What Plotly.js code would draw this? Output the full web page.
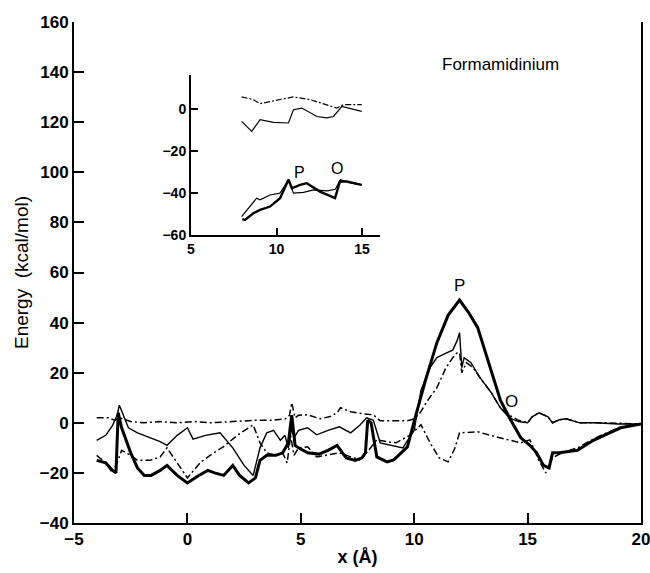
<!DOCTYPE html>
<html>
<head>
<meta charset="utf-8">
<script src="https://cdn.plot.ly/plotly-3.0.1.min.js"></script>
<style>html,body{margin:0;padding:0;background:#fff}#chart{width:650px;height:573px}</style>
</head>
<body>
<div id="chart"></div>
<script>
// ---- Main panel data (x in Å, energy in kcal/mol) ----
const thickX = [-4.0,-3.6,-3.3,-3.15,-3.05,-2.9,-2.5,-2.2,-1.9,-1.6,-1.2,-0.9,-0.45,0.0,0.5,0.9,1.2,1.6,2.0,2.3,2.7,3.0,3.2,3.5,3.9,4.2,4.45,4.6,4.75,4.9,5.3,5.8,6.2,6.6,7.0,7.4,7.7,7.85,7.95,8.1,8.35,8.8,9.1,9.7,10.1,10.5,11.0,11.5,12.0,12.4,12.8,13.4,13.8,14.2,14.7,15.1,15.4,15.7,15.95,16.1,16.4,17.2,17.9,19.1,20.0];
const thickY = [-15,-16,-19,-20,4,-2,-12,-18,-21,-21,-19,-17,-21,-24,-21,-19,-20,-21,-17,-21,-24,-22,-15,-13,-13,-12,-8,3,-9,-10,-12,-12.5,-11,-9,-14,-15,-14,-12,1,0,-13.6,-15.6,-14.8,-9.6,4,17,32,43,49,44,38,21,9,2,-6,-9,-12,-17,-18,-12,-12,-11,-7,-2,-0.5];

const thinX = [-4.0,-3.6,-3.3,-3.1,-3.0,-2.6,-2.2,-1.6,-1.2,-0.9,-0.45,0.0,0.25,0.8,1.44,2.0,2.5,2.9,3.2,3.5,3.8,4.1,4.3,4.45,4.6,4.7,4.9,5.3,5.7,6.2,6.7,7.2,7.6,7.9,8.2,8.5,9.0,9.5,10.0,10.3,10.7,11.0,11.45,11.7,11.9,12.0,12.1,12.2,12.5,12.9,13.4,13.8,14.2,14.6,15.0,15.2,15.5,15.9,16.1,16.4,16.7,17.3,18.0,19.0,20.0];
const thinY = [-7,-5,-1,3,7,-2,-4,-6,-7.5,-9,-5,-2,-6.5,-5,-4,-10,-17,-21,-10,-4,-3,-7,-5,-10,-2,-6,-3,-2,-4.8,-3,-1.6,-4,-1,2,1,-8,-9,-10,-3,13,22,26,28,29,33,36,22,26,24,18,12,6,2,0.5,0,2.4,4,2.4,0,1.2,1.6,0,0,-0.5,-0.5];

const dashAX = [-4.0,-3.5,-3.2,-3.0,-2.5,-1.9,-1.2,-0.5,0.3,1.0,2.0,3.0,3.7,4.3,4.5,4.6,4.75,4.9,5.3,5.85,6.3,6.6,6.75,7.2,7.8,8.2,8.5,9.0,9.7,10.0,10.26,10.6,11.0,11.4,11.7,11.9,12.0,12.1,12.3,12.6,12.9,13.4,13.8,14.2,14.6,15.0,15.2,15.5,15.9,16.1,16.4,16.7,17.3,18.5,20.0];
const dashAY = [2,2,1,2,0.5,0,0.5,0,0.5,0,0.5,1,1,1.5,3,8,2,3,3.2,1.6,2.5,4,6,4.4,3.5,3.2,0.8,0.8,0.8,1.5,4,9,14,22,26,28,28,20,24,22,18,12,6,3,1,0,2.4,4,2.4,0,1.2,1.6,0,0,-0.5];

const dashBX = [-4.0,-3.6,-3.3,-3.1,-2.9,-2.5,-2.2,-1.65,-1.2,-0.9,-0.45,0.0,0.56,1.0,1.58,2.2,2.9,3.2,3.5,3.9,4.2,4.4,4.55,4.7,4.9,5.3,5.7,6.2,6.7,7.2,7.6,7.9,8.35,8.8,9.2,9.8,10.3,10.7,11.1,11.5,11.8,12.0,12.8,13.6,14.2,14.7,15.1,15.5,15.8,16.1,16.5,17.2,18.0,19.0,20.0];
const dashBY = [-13,-16,-20,-16,-11,-13,-15,-15,-13.6,-10,-16,-22,-16,-13,-9.6,-5,-0.8,-8,-12,-13,-12,-16,-5,-13,-10,-9.6,-13.6,-12.8,-12,-13.6,-14.8,-12,-6.8,-7.5,-8,-5,-0.8,-8,-14,-15.6,-10,-4,-3.6,-5.6,-7,-8,-6.8,-15,-20,-14,-12,-10,-6,-2,-0.5];

// ---- Inset data ----
const inDashX = [7.96,8.64,9.04,10.01,10.98,11.96,12.93,13.52,13.9,14.98];
const inDashY = [5.6,4.3,2.4,3.9,5.6,4.3,1.9,0.3,1.9,1.9];
const inThinUpX = [7.96,8.55,9.04,9.82,10.7,10.99,11.48,12.36,12.94,13.33,13.82,14.98];
const inThinUpY = [-6,-10.8,-5.2,-6.5,-6.8,-0.5,0.3,-3.7,-4.4,-3.7,1.1,-1.3];
const inThickX = [8.0,8.16,8.64,9.04,9.62,10.21,10.7,10.9,11.38,11.77,12.54,13.42,13.71,14.1,14.98];
const inThickY = [-52.5,-52.9,-49.7,-48.1,-46.5,-42.5,-33.8,-37.8,-36.2,-35.4,-39.4,-42.5,-34.6,-34.6,-36.2];
const inThinLoX = [7.96,8.84,9.04,9.62,10.21,10.7,10.99,11.58,12.17,12.95,13.44,13.73,14.4,14.98];
const inThinLoY = [-51.3,-42.5,-43.3,-41,-40.1,-33.8,-40.1,-39.8,-38.6,-39,-38.3,-33.8,-35.4,-36.2];

const xTicks = [-5,0,5,10,15,20];
const yTicks = [-40,-20,0,20,40,60,80,100,120,140,160];
const inXTicks = [5,10,15];
const inYTicks = [-60,-40,-20,0];

const K = '#000';
const FAM = 'Liberation Sans, Arial, sans-serif';
const dd = '7px,3px,2px,3px';
const traces = [
  {x: thinX, y: thinY, mode:'lines', line:{color:K, width:1.4}},
  {x: dashAX, y: dashAY, mode:'lines', line:{color:K, width:1.5, dash:dd}},
  {x: dashBX, y: dashBY, mode:'lines', line:{color:K, width:1.5, dash:dd}},
  {x: thickX, y: thickY, mode:'lines', line:{color:K, width:3}},
  {x: inDashX, y: inDashY, xaxis:'x2', yaxis:'y2', mode:'lines', line:{color:K, width:1.2, dash:'6px,2px,2px,2px'}},
  {x: inThinUpX, y: inThinUpY, xaxis:'x2', yaxis:'y2', mode:'lines', line:{color:K, width:1.2}},
  {x: inThinLoX, y: inThinLoY, xaxis:'x2', yaxis:'y2', mode:'lines', line:{color:K, width:1.2}},
  {x: inThickX, y: inThickY, xaxis:'x2', yaxis:'y2', mode:'lines', line:{color:K, width:2.4}}
];

const tickFont = {family:FAM, size:17, color:K, weight:'bold'};
const inTickFont = {family:FAM, size:14, color:K, weight:'bold'};
const layout = {
  width:650, height:573,
  margin:{l:74, r:9, t:22, b:50},
  paper_bgcolor:'#fff', plot_bgcolor:'#fff',
  showlegend:false,
  xaxis:{range:[-5,20], tickvals:xTicks, ticks:'inside', ticklen:10, tickwidth:2, tickcolor:K,
         showline:true, linewidth:2, linecolor:K, mirror:false, showgrid:false, zeroline:false,
         tickfont:tickFont, ticklabeloverflow:'allow',
         title:{text:'x (Å)', font:{family:FAM, size:18, color:K, weight:'bold'}, standoff:2}},
  yaxis:{range:[-40,160], tickvals:yTicks, ticks:'inside', ticklen:10, tickwidth:2, tickcolor:K,
         showline:true, linewidth:2, linecolor:K, mirror:true, showgrid:false, zeroline:false,
         tickfont:tickFont, ticklabeloverflow:'allow',
         title:{text:'Energy  (kcal/mol)', font:{family:FAM, size:19, color:K}, standoff:6}},
  xaxis2:{domain:[0.2063,0.5397], anchor:'y2', range:[5,16.05], tickvals:inXTicks, ticks:'inside', ticklen:7, tickwidth:2, tickcolor:K,
          showline:true, linewidth:2, linecolor:K, showgrid:false, zeroline:false,
          tickfont:inTickFont},
  yaxis2:{domain:[0.5749,0.8942], anchor:'x2', range:[-60,16], tickvals:inYTicks, ticks:'inside', ticklen:7, tickwidth:2, tickcolor:K,
          showline:true, linewidth:2, linecolor:K, showgrid:false, zeroline:false,
          tickfont:inTickFont},
  annotations:[
    {x:12.0, y:55, xref:'x', yref:'y', text:'P', showarrow:false, font:{family:FAM, size:17, color:K}},
    {x:14.3, y:8.5, xref:'x', yref:'y', text:'O', showarrow:false, font:{family:FAM, size:17, color:K}},
    {x:11.37, y:-30.5, xref:'x2', yref:'y2', text:'P', showarrow:false, font:{family:FAM, size:16, color:K}},
    {x:13.55, y:-28.5, xref:'x2', yref:'y2', text:'O', showarrow:false, font:{family:FAM, size:16, color:K}},
    {x:13.8, y:143, xref:'x', yref:'y', text:'Formamidinium', showarrow:false, font:{family:FAM, size:17, color:K}}
  ]
};
Plotly.newPlot('chart', traces, layout, {displayModeBar:false, staticPlot:true});
</script>
</body>
</html>
